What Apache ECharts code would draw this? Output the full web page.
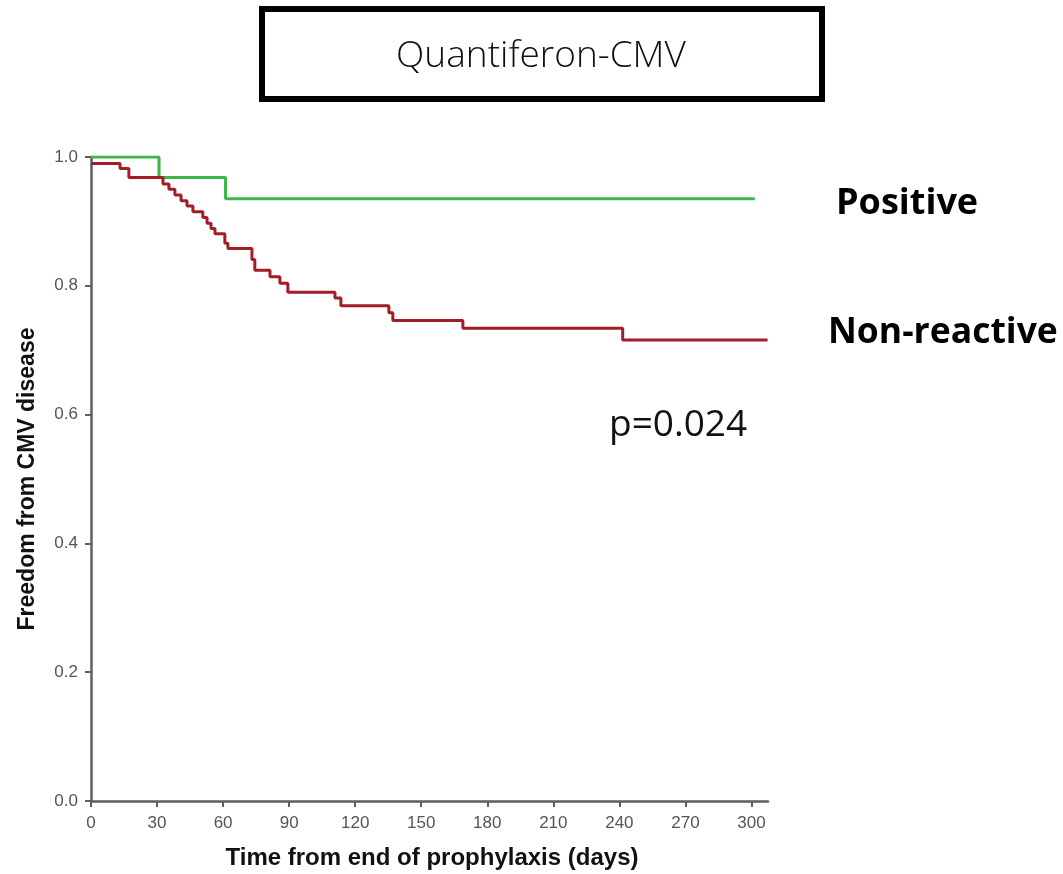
<!DOCTYPE html>
<html>
<head>
<meta charset="utf-8">
<script src="https://cdn.jsdelivr.net/npm/echarts@6/dist/echarts.min.js"></script>
<style>
html,body{margin:0;padding:0;background:#fff;}
#chart{width:1063px;height:874px;}
</style>
</head>
<body>
<div id="chart"></div>
<script>
// ---- data ----
const xTicks = [0, 30, 60, 90, 120, 150, 180, 210, 240, 270, 300];
const yTicks = [0, 0.2, 0.4, 0.6, 0.8, 1.0];

const nonReactiveDays = [0, 13.2, 17.2, 32.7, 35.4, 38.1, 40.9, 43.6, 46.3, 50.8, 52.7, 54.5, 56.3, 60.8, 62.2, 73.1, 74.4, 81.3, 85.8, 89.4, 110.8, 113.5, 135.3, 137.1, 168.9, 241.5, 307.3];
const nonReactiveSurv = [0.990, 0.982, 0.968, 0.958, 0.950, 0.941, 0.932, 0.924, 0.915, 0.906, 0.897, 0.889, 0.881, 0.866, 0.858, 0.841, 0.824, 0.814, 0.804, 0.790, 0.781, 0.769, 0.758, 0.746, 0.734, 0.716, 0.716];

const positiveDays = [0, 30.9, 61.1, 301.5];
const positiveSurv = [1.0, 0.968, 0.935, 0.935];

const titleText = 'Quantiferon-CMV';
const xTitle = 'Time from end of prophylaxis (days)';
const yTitle = 'Freedom from CMV disease';

function pairs(xs, ys) { return xs.map((x, i) => [x, ys[i]]); }

const chart = echarts.init(document.getElementById('chart'), null, { renderer: 'canvas' });
const axisColor = '#5e5e5e';
const labelFont = 'Liberation Sans Narrow, Arial Narrow, Liberation Sans, sans-serif';

chart.setOption({
  backgroundColor: '#ffffff',
  animation: false,
  grid: { left: 91, top: 157, width: 677, height: 644, containLabel: false },
  xAxis: {
    type: 'value', min: 0, max: 307.5,
    axisLine: { show: true, onZero: false, lineStyle: { color: axisColor, width: 2.5 } },
    axisTick: { show: true, inside: false, length: 6, customValues: xTicks, lineStyle: { color: axisColor, width: 2 } },
    axisLabel: { customValues: xTicks, color: '#555', fontFamily: labelFont, fontSize: 17, margin: 14 },
    splitLine: { show: false }
  },
  yAxis: {
    type: 'value', min: 0, max: 1, interval: 0.2,
    axisLine: { show: true, onZero: false, lineStyle: { color: axisColor, width: 2.5 } },
    axisTick: { show: true, inside: false, length: 6, lineStyle: { color: axisColor, width: 2 } },
    axisLabel: { color: '#555', fontFamily: labelFont, fontSize: 17, margin: 13, formatter: v => v.toFixed(1) },
    splitLine: { show: false }
  },
  series: [
    {
      name: 'Positive', type: 'line', step: 'end', showSymbol: false, symbol: 'none',
      data: pairs(positiveDays, positiveSurv),
      lineStyle: { color: '#3db54a', width: 3 }, z: 3
    },
    {
      name: 'Non-reactive', type: 'line', step: 'end', showSymbol: false, symbol: 'none',
      data: pairs(nonReactiveDays, nonReactiveSurv),
      lineStyle: { color: '#a21d24', width: 3 }, z: 4
    }
  ],
  graphic: [
    { type: 'rect', shape: { x: 262, y: 9, width: 560, height: 90 },
      style: { fill: '#fff', stroke: '#000', lineWidth: 6 } },
    { type: 'text', x: 541, y: 56,
      style: { text: titleText, fill: '#111', font: '300 37px "Open Sans", Lato, sans-serif', textAlign: 'center', textVerticalAlign: 'middle' } },
    { type: 'text', x: 836, y: 204,
      style: { text: 'Positive', fill: '#000', font: 'bold 36px "Open Sans", sans-serif', textAlign: 'left', textVerticalAlign: 'middle' } },
    { type: 'text', x: 828, y: 333,
      style: { text: 'Non-reactive', fill: '#000', font: 'bold 35.5px "Open Sans", sans-serif', textAlign: 'left', textVerticalAlign: 'middle' } },
    { type: 'text', x: 609, y: 425,
      style: { text: 'p=0.024', fill: '#111', font: '37px "Open Sans", sans-serif', textAlign: 'left', textVerticalAlign: 'middle' } },
    { type: 'text', x: 432, y: 858,
      style: { text: xTitle, fill: '#111', font: 'bold 24px "Liberation Sans", Arial, sans-serif', textAlign: 'center', textVerticalAlign: 'middle' } },
    { type: 'text', x: 28, y: 479, rotation: Math.PI / 2,
      style: { text: yTitle, fill: '#111', font: 'bold 23px "Liberation Sans", Arial, sans-serif', textAlign: 'center', textVerticalAlign: 'middle' } }
  ]
});
</script>
</body>
</html>
